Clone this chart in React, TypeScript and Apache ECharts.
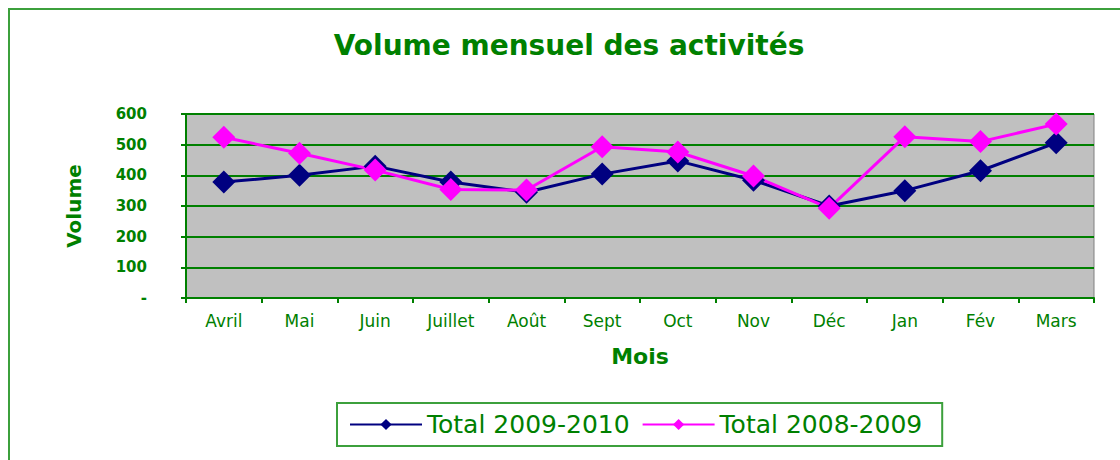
import React, { useEffect, useRef } from "react";
import * as echarts from "echarts";

const months = ["Avril", "Mai", "Juin", "Juillet", "Août", "Sept", "Oct", "Nov", "Déc", "Jan", "Fév", "Mars"];
const total2009_2010 = [378, 400, 430, 378, 345, 404, 447, 384, 300, 350, 415, 506];
const total2008_2009 = [524, 472, 417, 354, 352, 493, 476, 398, 293, 526, 510, 567];
const seriesNames = ["Total 2009-2010", "Total 2008-2009"];
const titleText = "Volume mensuel des activités";
const yAxisName = "Volume";
const xAxisName = "Mois";

const GREEN = "#008000";
const FONT = "DejaVu Sans";

export default function App() {
  const ref = useRef<HTMLDivElement>(null);
  useEffect(() => {
    if (!ref.current) return;
    const chart = echarts.init(ref.current, undefined, { renderer: "svg" });
    chart.setOption({
      animation: false,
      backgroundColor: "#ffffff",
      title: {
        text: titleText,
        left: 569,
        textAlign: "center",
        top: 31,
        padding: 0,
        textStyle: { color: GREEN, fontFamily: FONT, fontWeight: "bold", fontSize: 28 },
      },
      graphic: [
        {
          type: "rect",
          shape: { x: 9, y: 9, width: 1300, height: 700 },
          style: { fill: "none", stroke: "#3ca03c", lineWidth: 2 },
          silent: true,
          z: -1,
        },
      ],
      grid: {
        left: 186,
        top: 114,
        right: 26,
        bottom: 162,
        show: true,
        backgroundColor: "#c0c0c0",
        borderColor: "#808080",
        borderWidth: 1,
      },
      legend: {
        left: 337,
        top: 403,
        padding: [9, 20, 9, 12],
        itemGap: 12,
        itemWidth: 72,
        itemHeight: 14,
        borderColor: "#3ca03c",
        borderWidth: 2,
        textStyle: { color: GREEN, fontFamily: FONT, fontSize: 25 },
        data: seriesNames,
      },
      xAxis: {
        type: "category",
        data: months,
        boundaryGap: true,
        name: xAxisName,
        nameLocation: "middle",
        nameGap: 47,
        nameTextStyle: { color: GREEN, fontFamily: FONT, fontWeight: "bold", fontSize: 22 },
        axisLine: { lineStyle: { color: GREEN, width: 2 } },
        axisTick: { show: true, alignWithLabel: false, length: 5, lineStyle: { color: GREEN, width: 2 } },
        axisLabel: { color: GREEN, fontFamily: FONT, fontSize: 17, margin: 14, interval: 0 },
        splitLine: { show: false },
      },
      yAxis: {
        type: "value",
        min: 0,
        max: 600,
        interval: 100,
        name: yAxisName,
        nameLocation: "middle",
        nameRotate: 90,
        nameGap: 102,
        nameTextStyle: { color: GREEN, fontFamily: FONT, fontWeight: "bold", fontSize: 20 },
        axisLine: { show: true, lineStyle: { color: GREEN, width: 2 } },
        axisTick: { show: true, length: 5, lineStyle: { color: GREEN, width: 2 } },
        axisLabel: {
          color: GREEN,
          fontFamily: FONT,
          fontWeight: "bold",
          fontSize: 15,
          margin: 39,
          formatter: (v: number) => (v === 0 ? "-" : String(v)),
        },
        splitLine: { show: true, lineStyle: { color: GREEN, width: 2 } },
      },
      series: [
        {
          name: seriesNames[0],
          type: "line",
          data: total2009_2010,
          symbol: "diamond",
          symbolSize: 23,
          color: "#000080",
          lineStyle: { width: 3, color: "#000080" },
          itemStyle: { color: "#000080" },
        },
        {
          name: seriesNames[1],
          type: "line",
          data: total2008_2009,
          symbol: "diamond",
          symbolSize: 23,
          color: "#ff00ff",
          lineStyle: { width: 3, color: "#ff00ff" },
          itemStyle: { color: "#ff00ff" },
        },
      ],
    });
    return () => chart.dispose();
  }, []);
  return (
    <div
      ref={ref}
      style={{ position: "fixed", left: 0, top: 0, width: 1120, height: 460 }}
    />
  );
}
